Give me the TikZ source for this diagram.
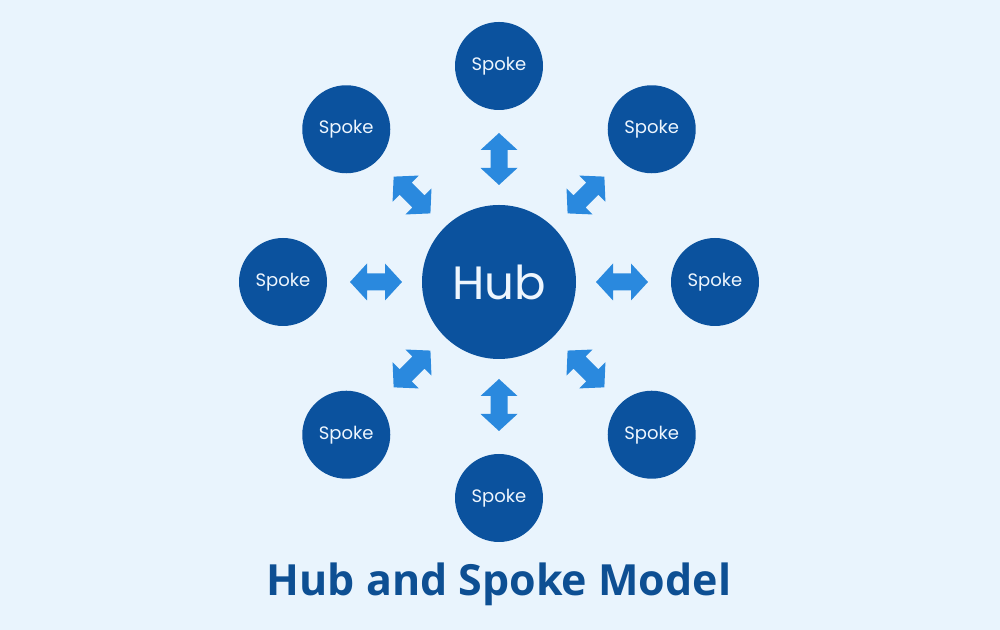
\documentclass[tikz,border=0pt]{standalone}
\usepackage{fontspec}
\usetikzlibrary{calc}
\setmainfont{Poppins}
\newfontfamily\titlefont{Open Sans}
\definecolor{bgc}{HTML}{E9F4FD}
\definecolor{circc}{HTML}{0B529E}
\definecolor{arrc}{HTML}{2A89DE}
\definecolor{titc}{HTML}{0D4F93}
\definecolor{txtc}{HTML}{EEF6FE}
\tikzset{
  hubnode/.style={circle, fill=circc, minimum size=115.5pt, inner sep=0, text=txtc, font=\fontsize{35}{40}\selectfont},
  spokenode/.style={circle, fill=circc, minimum size=66pt, inner sep=0, text=txtc, font=\fontsize{13.5}{16}\selectfont},
  dblarrow/.pic={\fill[arrc] (-26,0) -- (-9,18.5) -- (-9,8.5) -- (9,8.5) -- (9,18.5) -- (26,0) -- (9,-18.5) -- (9,-8.5) -- (-9,-8.5) -- (-9,-18.5) -- cycle;}
}
\begin{document}
\begin{tikzpicture}[x=0.75pt,y=0.75pt]
\fill[bgc] (0,0) rectangle (1000,630);
\useasboundingbox (0,0) rectangle (1000,630);
\node[hubnode] (hub) at (499,348) {Hub};
\foreach \a/\n in {0/r,45/tr,90/t,135/tl,180/l,225/bl,270/b,315/br}{
  \node[spokenode] (s\n) at ($(hub)+(\a:216)$) {Spoke};
  \pic[rotate=\a] (a\n) at ($(hub)+(\a:123)$) {dblarrow};
}
\node[font=\titlefont\bfseries\fontsize{32.2}{38}\selectfont, text=titc] (title) at (499,46) {Hub and Spoke Model};
\end{tikzpicture}
\end{document}
